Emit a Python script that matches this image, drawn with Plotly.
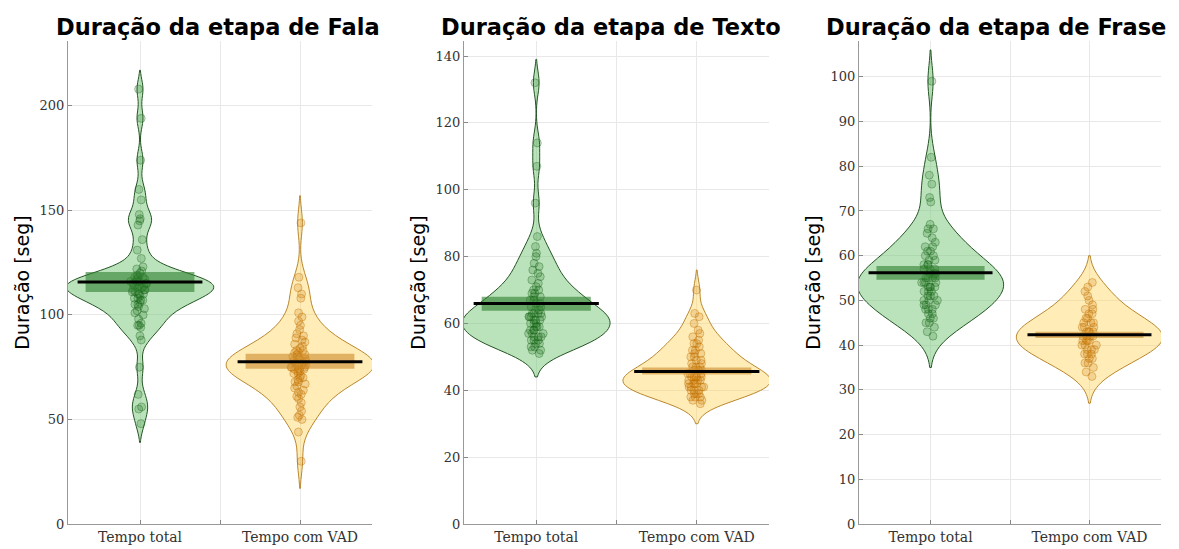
import plotly.graph_objects as go

# ---------------- data ----------------
panel_titles = ["Duração da etapa de Fala", "Duração da etapa de Texto", "Duração da etapa de Frase"]
categories = ["Tempo total", "Tempo com VAD"]
y_label = "Duração [seg]"

fala_total = [208, 194, 174, 160, 155, 148, 146, 145, 143, 136, 131, 127,
              123, 122, 121, 120, 119, 118, 118, 117, 117, 116, 116, 115, 115, 115, 114, 114, 113, 113,
              112, 112, 111, 111, 110, 110, 109, 108, 108, 107, 106, 105, 104, 103, 102, 101, 100,
              114, 116, 112, 110, 118, 105, 107,
              98, 96, 95, 95, 94, 90, 88, 75, 62, 56, 55, 48]
fala_vad = [144, 118, 113, 110, 108, 101, 99, 97, 95, 93, 91, 90, 89, 88, 87, 86, 85, 84,
            83, 82, 82, 81, 80, 80, 79, 78, 78, 77, 77, 76, 76, 75, 75, 74, 74, 73, 72, 72,
            71, 70, 69, 68, 67, 66, 65, 64, 63, 62, 61, 60, 58, 56, 54, 52, 51, 50, 44, 30,
            79, 77, 76, 75, 74, 73, 81, 83, 70, 68]
texto_total = [132, 114, 107, 96, 86, 83, 81, 80, 78, 77, 76, 75, 74, 73, 72, 71, 70, 70,
               69, 69, 68, 68, 67, 67, 66, 66, 65, 65, 64, 64, 63, 63, 63, 62, 62, 62, 61, 61,
               60, 60, 59, 59, 58, 58, 57, 57, 56, 56, 55, 55, 54, 53, 52, 51,
               60, 61, 62, 63, 58, 57, 56, 54, 53, 52, 55, 59]
texto_vad = [70, 63, 62, 60, 58, 57, 56, 55, 54, 54, 53, 52, 52, 51, 51, 50, 50, 49, 49,
             48, 48, 47, 47, 47, 46, 46, 46, 45, 45, 45, 44, 44, 44, 44, 43, 43, 43, 42, 42,
             42, 41, 41, 41, 40, 40, 39, 39, 38, 38, 37, 36, 44, 43, 42, 41, 40, 39, 38, 37]
frase_total = [99, 82, 78, 76, 73, 72, 67, 66, 66, 65, 64, 63, 62, 62, 61, 61, 60, 60, 59, 59,
               58, 58, 58, 57, 57, 57, 56, 56, 56, 55, 55, 55, 54, 54, 54, 53, 53, 53, 52, 52,
               51, 51, 50, 50, 49, 49, 48, 48, 47, 46, 45, 43, 42,
               48, 47, 50, 52, 53, 54, 55, 46, 49, 51, 45, 44]
frase_vad = [54, 53, 52, 51, 50, 49, 48, 48, 47, 47, 46, 46, 45, 45, 45, 44, 44, 44, 43, 43, 43, 43,
             42, 42, 42, 42, 41, 41, 41, 41, 40, 40, 40, 39, 39, 39, 38, 38, 38, 37, 37,
             36, 36, 35, 34, 33]

series = [[fala_total, fala_vad], [texto_total, texto_vad], [frase_total, frase_vad]]
means = [[115.7, 77.6], [66.0, 45.6], [56.2, 42.3]]
ci_low = [[111.0, 74.3], [63.8, 44.7], [54.6, 41.6]]
ci_high = [[120.5, 81.4], [68.0, 46.8], [57.7, 43.0]]
bandwidths = [[4.5, 6.5], [3.5, 3.0], [3.5, 3.0]]

y_ranges = [[0, 231], [0, 144.5], [0, 108]]
y_dticks = [50, 20, 10]

# ---------------- styles ----------------
fills = ["rgba(120,200,120,0.5)", "rgba(255,212,95,0.45)"]
outlines = ["rgb(35,85,35)", "rgb(185,135,45)"]
pt_fill = ["rgba(25,110,25,0.2)", "rgba(205,125,10,0.22)"]
pt_line = ["rgba(20,95,20,0.35)", "rgba(190,110,0,0.38)"]
box_col = ["rgba(45,125,45,0.6)", "rgba(205,140,45,0.6)"]

# the page body adds an 8 px margin around the figure div
OFF = 8
W, H = 1179 - OFF, 549 - OFF
ml, mr, mt, mb = 68 - OFF, 18, 41 - OFF, 25
pw = W - ml - mr
ph = H - mt - mb
px_domains = [(68, 372), (464, 769), (859, 1161)]          # screen pixels
domains = [[(a - 68) / pw, (b - 68) / pw] for a, b in px_domains]
title_left_px = [54, 439, 824]                              # screen pixels
title_mid_y_px = 27                                         # screen pixels

fig = go.Figure()
tick_font = dict(family="DejaVu Serif, serif", size=13, color="#333")
xtick_font = dict(family="DejaVu Serif, serif", size=14, color="#333")

for p in range(3):
    xa = "x" if p == 0 else f"x{p+1}"
    ya = "y" if p == 0 else f"y{p+1}"
    for c in range(2):
        data = series[p][c]
        fig.add_trace(go.Violin(
            x=[c] * len(data), y=data, xaxis=xa, yaxis=ya,
            width=0.92, scalemode="width", bandwidth=bandwidths[p][c], spanmode="soft",
            fillcolor=fills[c], line=dict(color=outlines[c], width=1),
            points="all", pointpos=0, jitter=0.13,
            marker=dict(size=8, color=pt_fill[c], line=dict(color=pt_line[c], width=1)),
            box=dict(visible=False), meanline=dict(visible=False),
            showlegend=False, hoverinfo="y",
        ))
        # CI box of the mean
        bx = [c - 0.34, c + 0.34, c + 0.34, c - 0.34, c - 0.34]
        by = [ci_low[p][c], ci_low[p][c], ci_high[p][c], ci_high[p][c], ci_low[p][c]]
        fig.add_trace(go.Scatter(x=bx, y=by, xaxis=xa, yaxis=ya, fill="toself",
                                 fillcolor=box_col[c], line=dict(width=0), mode="lines",
                                 showlegend=False, hoverinfo="skip"))
        # mean line
        fig.add_trace(go.Scatter(x=[c - 0.39, c + 0.39], y=[means[p][c]] * 2, xaxis=xa, yaxis=ya,
                                 mode="lines", line=dict(color="black", width=3),
                                 showlegend=False, hoverinfo="skip"))

    xkey = "xaxis" if p == 0 else f"xaxis{p+1}"
    ykey = "yaxis" if p == 0 else f"yaxis{p+1}"
    fig.layout[xkey] = dict(
        domain=domains[p], anchor=ya, range=[-0.45, 1.45], automargin=False,
        tickvals=[0, 0.5, 1], ticktext=[categories[0], "", categories[1]],
        showgrid=True, gridcolor="#e8e8e8", gridwidth=1, zeroline=False,
        showline=True, linecolor="#999", linewidth=1,
        ticks="inside", ticklen=4, tickcolor="#888", tickfont=xtick_font,
    )
    fig.layout[ykey] = dict(
        domain=[0, 1], anchor=xa, range=y_ranges[p], dtick=y_dticks[p], automargin=False,
        showgrid=True, gridcolor="#e8e8e8", gridwidth=1, zeroline=False,
        showline=True, linecolor="#999", linewidth=1,
        ticks="inside", ticklen=4, tickcolor="#888", tickfont=tick_font,
        title=dict(text=y_label, font=dict(family="DejaVu Sans", size=19, color="black"), standoff=4),
    )
    fig.add_annotation(
        text=f"<b>{panel_titles[p]}</b>", xref="paper", yref="paper",
        x=(title_left_px[p] - 68) / pw, y=(H - mb - (title_mid_y_px - OFF)) / ph,
        xanchor="left", yanchor="middle", showarrow=False,
        font=dict(family="DejaVu Sans", size=22.5, color="black"),
    )

fig.update_layout(
    width=W, height=H, margin=dict(l=ml, r=mr, t=mt, b=mb),
    paper_bgcolor="white", plot_bgcolor="white",
    violingap=0, violinmode="overlay",
)

fig.write_html("out.html")
